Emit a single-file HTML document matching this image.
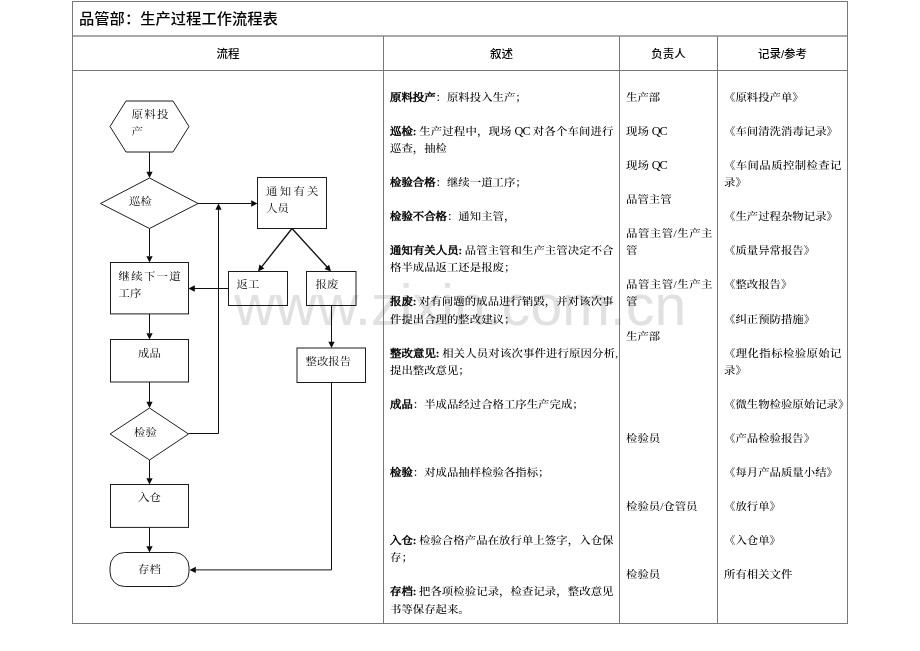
<!DOCTYPE html>
<html lang="zh-CN">
<head>
<meta charset="utf-8">
<title>品管部：生产过程工作流程表</title>
<style>
html,body{margin:0;padding:0;background:#fff;}
body{width:920px;height:651px;position:relative;overflow:hidden;font-family:"Liberation Serif","Noto Serif CJK SC",serif;color:#000;}
.t{position:absolute;white-space:nowrap;font-size:11.4px;font-weight:500;line-height:17px;height:17px;color:#000;transform:scaleY(0.935);transform-origin:50% 50%;}
.j{text-align:justify;text-align-last:justify;}
.b{font-weight:400;color:#000;-webkit-text-stroke:0.55px #000;}
.h{position:absolute;white-space:nowrap;font-family:"Liberation Sans","Noto Sans CJK SC",sans-serif;font-weight:500;font-size:11.5px;line-height:17px;height:17px;text-align:center;color:#000;transform:scaleY(0.95);transform-origin:50% 60%;}
.title{position:absolute;left:79px;top:9px;font-family:"Liberation Sans","Noto Sans CJK SC",sans-serif;font-size:15.3px;font-weight:500;line-height:20px;white-space:nowrap;color:#000;transform:scaleY(0.95);transform-origin:0 80%;}
.ln{position:absolute;background:#787878;}
.f{color:#000;font-weight:400;}
#wm{position:absolute;left:234.3px;top:273px;font-family:"Liberation Sans",sans-serif;font-size:57px;letter-spacing:0.15px;line-height:62px;color:#e1e1e1;white-space:nowrap;transform-origin:0 0;transform:scaleY(1.015);}
svg{position:absolute;left:0;top:0;}
#page{position:absolute;left:0;top:0;width:920px;height:651px;overflow:hidden;will-change:transform;}
.q{font-size:12.3px;letter-spacing:-0.9px;}
</style>
</head>
<body>
<div id="page">
<div id="wm">www.zixin.com.cn</div>
<div class="ln" style="left:72px;top:1px;width:776px;height:1px;"></div>
<div class="ln" style="left:72px;top:35px;width:776px;height:2px;background:#a9a9a9;"></div>
<div class="ln" style="left:72px;top:70px;width:776px;height:1px;"></div>
<div class="ln" style="left:72px;top:623px;width:776px;height:1px;"></div>
<div class="ln" style="left:72px;top:1px;width:1px;height:623px;"></div>
<div class="ln" style="left:847px;top:1px;width:1px;height:623px;"></div>
<div class="ln" style="left:383px;top:36px;width:1px;height:588px;"></div>
<div class="ln" style="left:619px;top:36px;width:1px;height:588px;"></div>
<div class="ln" style="left:717px;top:36px;width:1px;height:588px;"></div>
<div class="title">品管部：生产过程工作流程表</div>
<div class="h" style="left:72px;width:312px;top:45.5px;">流程</div>
<div class="h" style="left:383px;width:237px;top:45.5px;">叙述</div>
<div class="h" style="left:619px;width:99px;top:45.5px;">负责人</div>
<div class="h" style="left:717px;width:131px;top:45.5px;">记录/参考</div>
<div class="t" style="left:390px;top:88.75px;"><span class="b">原料投产</span>：原料投入生产；</div>
<div class="t j" style="left:390px;top:122.87px;width:223.5px;"><span class="b">巡检:</span> 生产过程中，现场 <span class="q">QC</span> 对各个车间进行</div>
<div class="t" style="left:390px;top:139.93px;">巡查，抽检</div>
<div class="t" style="left:390px;top:174.05px;"><span class="b">检验合格</span>：继续一道工序；</div>
<div class="t" style="left:390px;top:208.17px;"><span class="b">检验不合格</span>：通知主管，</div>
<div class="t j" style="left:390px;top:242.29px;width:223.5px;"><span class="b">通知有关人员:</span> 品管主管和生产主管决定不合</div>
<div class="t" style="left:390px;top:259.35px;">格半成品返工还是报废；</div>
<div class="t j" style="left:390px;top:293.47px;width:223.5px;"><span class="b">报废:</span> 对有问题的成品进行销毁，并对该次事</div>
<div class="t" style="left:390px;top:310.53px;">件提出合理的整改建议；</div>
<div class="t j" style="left:390px;top:344.65px;width:228px;"><span class="b">整改意见:</span> 相关人员对该次事件进行原因分析,</div>
<div class="t" style="left:390px;top:361.71px;">提出整改意见；</div>
<div class="t" style="left:390px;top:395.83px;"><span class="b">成品</span>：半成品经过合格工序生产完成；</div>
<div class="t" style="left:390px;top:464.07px;"><span class="b">检验</span>：对成品抽样检验各指标；</div>
<div class="t j" style="left:390px;top:532.31px;width:223.5px;"><span class="b">入仓:</span> 检验合格产品在放行单上签字，入仓保</div>
<div class="t" style="left:390px;top:549.37px;">存；</div>
<div class="t j" style="left:390px;top:583.49px;width:223.5px;"><span class="b">存档:</span> 把各项检验记录，检查记录，整改意见</div>
<div class="t" style="left:390px;top:600.55px;">书等保存起来。</div>
<div class="t" style="left:626px;top:88.75px;">生产部</div>
<div class="t" style="left:626px;top:122.87px;">现场 <span class="q">QC</span></div>
<div class="t" style="left:626px;top:156.99px;">现场 <span class="q">QC</span></div>
<div class="t" style="left:626px;top:191.11px;">品管主管</div>
<div class="t j" style="left:626px;top:225.23px;width:86.5px;">品管主管/生产主</div>
<div class="t" style="left:626px;top:242.29px;">管</div>
<div class="t j" style="left:626px;top:276.41px;width:86.5px;">品管主管/生产主</div>
<div class="t" style="left:626px;top:293.47px;">管</div>
<div class="t" style="left:626px;top:327.59px;">生产部</div>
<div class="t" style="left:626px;top:429.95px;">检验员</div>
<div class="t" style="left:626px;top:498.19px;">检验员/仓管员</div>
<div class="t" style="left:626px;top:566.43px;">检验员</div>
<div class="t" style="left:724px;top:88.75px;">《原料投产单》</div>
<div class="t" style="left:724px;top:122.87px;">《车间清洗消毒记录》</div>
<div class="t j" style="left:724px;top:156.99px;width:117.5px;">《车间品质控制检查记</div>
<div class="t" style="left:724px;top:174.05px;">录》</div>
<div class="t" style="left:724px;top:208.17px;">《生产过程杂物记录》</div>
<div class="t" style="left:724px;top:242.29px;">《质量异常报告》</div>
<div class="t" style="left:724px;top:276.41px;">《整改报告》</div>
<div class="t" style="left:724px;top:310.53px;">《纠正预防措施》</div>
<div class="t j" style="left:724px;top:344.65px;width:117.5px;">《理化指标检验原始记</div>
<div class="t" style="left:724px;top:361.71px;">录》</div>
<div class="t" style="left:724px;top:395.83px;">《微生物检验原始记录》</div>
<div class="t" style="left:724px;top:429.95px;">《产品检验报告》</div>
<div class="t" style="left:724px;top:464.07px;">《每月产品质量小结》</div>
<div class="t" style="left:724px;top:498.19px;">《放行单》</div>
<div class="t" style="left:724px;top:532.31px;">《入仓单》</div>
<div class="t" style="left:724px;top:566.43px;">所有相关文件</div>
<svg width="920" height="651" viewBox="0 0 920 651">
<g fill="none" stroke="#1c1c1c" stroke-width="1">
<polygon points="110,126.5 126,101 173,101 189,126.5 173,152 126,152"/>
<polygon points="100.5,203.5 149.5,178 198,203.5 149.5,228.5"/>
<rect x="257.5" y="177.5" width="69" height="51"/>
<rect x="228.5" y="271.5" width="59" height="34"/>
<rect x="306.5" y="271.5" width="49.5" height="34"/>
<rect x="297" y="348" width="68.5" height="34.5"/>
<rect x="110.5" y="262.5" width="78" height="51.4"/>
<rect x="110.5" y="339.5" width="78" height="42.5"/>
<polygon points="110,434 149.5,408 188.5,434 149.5,460"/>
<rect x="110.5" y="484.5" width="78" height="42.9"/>
<rect x="110" y="552.5" width="79" height="34" rx="14.5" ry="14.5"/>
</g>
<g fill="none" stroke="#111" stroke-width="1">
<polyline points="149.5,152 149.5,172"/>
<polyline points="149.5,228.5 149.5,256"/>
<polyline points="149.5,314 149.5,333"/>
<polyline points="149.5,382 149.5,402"/>
<polyline points="149.5,460 149.5,478.5"/>
<polyline points="149.5,527.4 149.5,546.5"/>
<polyline points="198,203.5 251,203.5"/>
<polyline points="188.5,433.5 218.5,433.5 218.5,209"/>
<polyline points="228.5,288.5 194,288.5"/>
<g stroke-width="1.35">
<polyline points="292,228.5 260.5,268.3"/>
<polyline points="292,228.5 328.5,268.5"/>
</g>
<polyline points="331.5,305.5 331.5,342"/>
<polyline points="331.5,382.5 331.5,569.9 195,569.9"/>
</g>
<g fill="#0a0a0a" stroke="none">
<polygon points="149.50,178.00 146.35,171.70 152.65,171.70"/>
<polygon points="149.50,262.50 146.35,256.20 152.65,256.20"/>
<polygon points="149.50,339.50 146.35,333.20 152.65,333.20"/>
<polygon points="149.50,408.00 146.35,401.70 152.65,401.70"/>
<polygon points="149.50,484.50 146.35,478.20 152.65,478.20"/>
<polygon points="149.50,552.50 146.35,546.20 152.65,546.20"/>
<polygon points="257.50,203.50 251.20,206.65 251.20,200.35"/>
<polygon points="218.50,203.50 221.65,209.80 215.35,209.80"/>
<polygon points="188.50,288.50 194.80,285.35 194.80,291.65"/>
<polygon points="258.00,271.50 259.44,264.60 264.38,268.51"/>
<polygon points="331.00,271.50 324.43,268.95 329.10,264.72"/>
<polygon points="331.50,348.00 328.35,341.70 334.65,341.70"/>
<polygon points="189.50,569.90 195.80,566.75 195.80,573.05"/>
</g>
</svg>
<div class="t f j" style="left:131.5px;top:105.50px;width:37px;">原料投</div>
<div class="t f" style="left:131.5px;top:122.50px;">产</div>
<div class="t f" style="left:129px;top:193.00px;">巡检</div>
<div class="t f j" style="left:266px;top:182.50px;width:52.5px;">通知有关</div>
<div class="t f" style="left:266px;top:199.50px;">人员</div>
<div class="t f" style="left:236.5px;top:276.00px;">返工</div>
<div class="t f" style="left:315.5px;top:276.00px;">报废</div>
<div class="t f" style="left:305.5px;top:352.50px;">整改报告</div>
<div class="t f j" style="left:118.5px;top:267.50px;width:62.2px;">继续下一道</div>
<div class="t f" style="left:118.5px;top:284.50px;">工序</div>
<div class="t f" style="left:138px;top:344.50px;">成品</div>
<div class="t f" style="left:134px;top:423.50px;">检验</div>
<div class="t f" style="left:138px;top:489.00px;">入仓</div>
<div class="t f" style="left:138px;top:561.00px;">存档</div>
</div>
</body>
</html>
